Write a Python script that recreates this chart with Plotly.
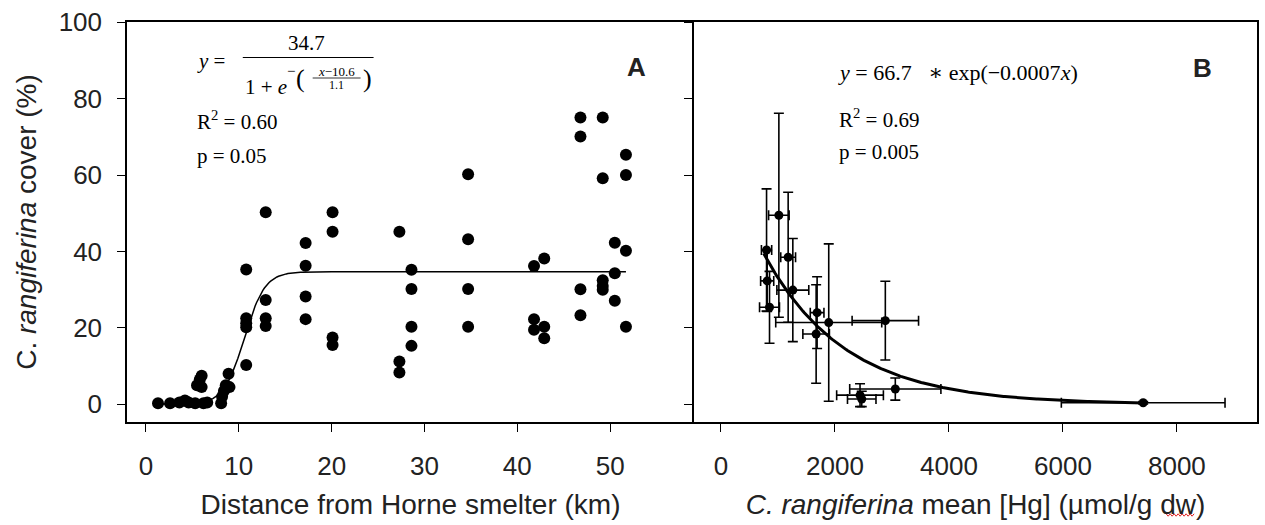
import plotly.graph_objects as go
import numpy as np

# ---------------- Data ----------------
# Panel A: distance from smelter (km) vs C. rangiferina cover (%)
distance_km = [1.3, 2.6, 3.6, 4.2, 4.6, 5.3, 5.5, 5.8, 6.0, 6.0, 6.2, 6.6, 8.1, 8.2, 8.4, 8.6, 8.9, 9.0,
               10.8, 10.8, 10.8, 10.8, 10.8,
               12.9, 12.9, 12.9, 12.9,
               17.2, 17.2, 17.2, 17.2,
               20.1, 20.1, 20.1, 20.1,
               27.3, 27.3, 27.3,
               28.6, 28.6, 28.6, 28.6,
               34.7, 34.7, 34.7, 34.7,
               41.8, 41.8, 41.8, 42.9, 42.9, 42.9,
               46.8, 46.8, 46.8, 46.8,
               49.2, 49.2, 49.2, 49.2, 49.2,
               50.5, 50.5, 50.5,
               51.7, 51.7, 51.7, 51.7]
cover_pct = [0.3, 0.3, 0.5, 1.0, 0.5, 0.3, 5.0, 6.5, 7.5, 4.5, 0.3, 0.5, 0.3, 2.0, 3.5, 5.0, 8.0, 4.5,
             35.3, 22.5, 21.2, 20.2, 10.3,
             50.3, 27.3, 22.5, 20.5,
             42.2, 36.3, 28.2, 22.3,
             50.3, 45.2, 17.5, 15.5,
             45.2, 11.2, 8.3,
             35.2, 30.2, 20.3, 15.3,
             60.2, 43.2, 30.2, 20.3,
             36.2, 22.3, 19.5, 38.2, 20.3, 17.3,
             75.1, 70.1, 30.1, 23.3,
             75.1, 59.2, 32.5, 31.0, 30.0,
             42.3, 34.3, 27.1,
             65.3, 60.0, 40.2, 20.3]

# Panel B: mean [Hg] vs mean cover, with SD
hg_mean = [1016, 800, 1179, 1261, 811, 852, 1687, 1670, 1891, 2884, 3059, 2440, 2470, 7408]
hg_sd = [180, 90, 130, 280, 115, 175, 120, 233, 930, 583, 800, 410, 250, 1436]
cov_mean = [49.5, 40.4, 38.5, 29.9, 32.3, 25.4, 24.0, 18.4, 21.4, 21.9, 4.0, 2.4, 1.4, 0.4]
cov_sd = [26.7, 16.0, 17.0, 13.5, 8.0, 9.4, 9.4, 12.9, 20.6, 10.3, 2.9, 3.0, 2.0, 0.3]

# Fitted models shown in the chart
A_ASYM, A_MID, A_SCALE = 34.7, 10.6, 1.1          # sigmoid fit (panel A)
A_FIT_RANGE = (1.3, 51.7)
B_AMP, B_RATE = 66.7, 0.0007                      # exponential fit (panel B)
B_FIT_RANGE = (750, 7408)

xa_ticks = [0, 10, 20, 30, 40, 50]
xb_ticks = [0, 2000, 4000, 6000, 8000]
y_ticks = [0, 20, 40, 60, 80, 100]

# ---------------- Layout geometry ----------------
W, H = 1265, 525
ML, MR, MT, MB = 127, 6, 22, 103
PW = W - ML - MR
PH = H - MT - MB
SPLIT = (695 - ML) / PW

def px(xp):
    return (xp - ML) / PW

def py(yp):
    return (H - MB - yp) / PH

ink = "#222222"

fig = go.Figure()

xa_fit = np.linspace(*A_FIT_RANGE, 300)
ya_fit = A_ASYM / (1 + np.exp(-(xa_fit - A_MID) / A_SCALE))
fig.add_trace(go.Scatter(x=xa_fit, y=ya_fit, mode="lines",
                         line=dict(color="black", width=1.5), xaxis="x", yaxis="y",
                         showlegend=False, hoverinfo="skip"))
fig.add_trace(go.Scatter(x=distance_km, y=cover_pct, mode="markers",
                         marker=dict(color="black", size=12), xaxis="x", yaxis="y",
                         showlegend=False))

xb_fit = np.linspace(*B_FIT_RANGE, 300)
yb_fit = B_AMP * np.exp(-B_RATE * xb_fit)
fig.add_trace(go.Scatter(x=xb_fit, y=yb_fit, mode="lines",
                         line=dict(color="black", width=3), xaxis="x2", yaxis="y2",
                         showlegend=False, hoverinfo="skip"))
fig.add_trace(go.Scatter(x=hg_mean, y=cov_mean, mode="markers",
                         marker=dict(color="black", size=9),
                         error_x=dict(type="data", array=hg_sd, color="black", thickness=1.6, width=5),
                         error_y=dict(type="data", array=cov_sd, color="black", thickness=1.6, width=5),
                         xaxis="x2", yaxis="y2", showlegend=False))

tickfont = dict(family="Liberation Sans, Arial", size=26, color=ink)
titlefont = dict(family="Liberation Sans, Arial", size=28, color=ink)

common_x = dict(showline=True, linecolor="black", linewidth=1.5, mirror=True,
                ticks="outside", ticklen=8, tickwidth=1.2, tickcolor="black",
                showgrid=False, zeroline=False, tickfont=tickfont, ticklabelstandoff=12)
common_y = dict(showline=True, linecolor="black", linewidth=1.5,
                ticks="outside", ticklen=8, tickwidth=1.2, tickcolor="black",
                showgrid=False, zeroline=False, range=[-4.63, 100.08], tickvals=y_ticks)

fig.update_layout(
    width=W, height=H,
    margin=dict(l=ML, r=MR, t=MT, b=MB),
    plot_bgcolor="white", paper_bgcolor="white",
    xaxis=dict(domain=[0, SPLIT], range=[-2.04, 59.03], tickvals=xa_ticks, anchor="y",
               title=dict(text="Distance from Horne smelter (km)", font=titlefont, standoff=14),
               **common_x),
    yaxis=dict(domain=[0, 1], anchor="x", tickfont=tickfont, ticklabelstandoff=10, mirror=False,
               title=dict(text="C. <i>rangiferina</i> cover (%)", font=titlefont, standoff=14),
               **common_y),
    xaxis2=dict(domain=[SPLIT, 1], range=[-473, 9405], tickvals=xb_ticks, anchor="y2",
                title=dict(text="<i>C. rangiferina</i> mean [Hg] (µmol/g dw)", font=titlefont, standoff=14),
                **common_x),
    yaxis2=dict(domain=[0, 1], anchor="x2", showticklabels=False, mirror=True, **common_y),
)

serif = "Liberation Serif, DejaVu Serif, serif"

def note(text, x, y, size=21, xanchor="left", family=serif, color="black"):
    fig.add_annotation(text=text, x=px(x), y=py(y), xref="paper", yref="paper",
                       xanchor=xanchor, yanchor="middle", showarrow=False,
                       font=dict(family=family, size=size, color=color))

def hline(x0, x1, y, width=1.0):
    fig.add_shape(type="line", xref="paper", yref="paper",
                  x0=px(x0), x1=px(x1), y0=py(y), y1=py(y),
                  line=dict(color="black", width=width))

NB = "\u00a0"

# Panel A equation
note(f"<i>y</i>{NB}={NB}", 195, 61)
note("34.7", 307, 43, xanchor="center")
hline(243, 374, 57.5)
note("1 + <i>e</i>", 243, 87)
note("−", 285, 71, size=15)
note("(", 294, 78, size=26)
note("<i>x</i>−10.6", 337, 71, size=13, xanchor="center")
hline(313, 361, 78, width=0.8)
note("1.1", 337, 85, size=12, xanchor="center")
note(")", 361, 78, size=26)
note("R<sup>2</sup> = 0.60", 195, 120)
note("p = 0.05", 195, 156)

# Panel B equation
note(f"<i>y</i>{NB}={NB}66.7{NB}{NB}{NB}∗{NB}exp(−0.0007<i>x</i>)", 837, 73, size=22)
note("R<sup>2</sup> = 0.69", 838, 118)
note("p = 0.005", 838, 152)

# Panel labels
note("<b>A</b>", 637, 67, size=26, xanchor="center", family="Liberation Sans, Arial", color=ink)
note("<b>B</b>", 1204, 68, size=26, xanchor="center", family="Liberation Sans, Arial", color=ink)

# spell-check squiggle under "dw" in the panel B axis title
sq_x0, sq_x1, sq_y = 1168, 1196, 515
pts = []
xx = sq_x0
k = 0
while xx <= sq_x1:
    pts.append((px(xx), py(sq_y + (1.2 if k % 2 else -1.2))))
    xx += 2
    k += 1
path = "M " + " L ".join(f"{a:.5f},{b:.5f}" for a, b in pts)
fig.add_shape(type="path", path=path, xref="paper", yref="paper",
              line=dict(color="#e02020", width=1))

fig.write_html("out.html")
